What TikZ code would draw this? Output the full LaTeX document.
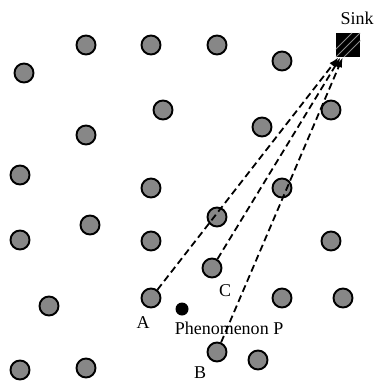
\documentclass[tikz,border=0pt]{standalone}
\usepackage{fontspec}
\setmainfont{Liberation Serif}
\usetikzlibrary{arrows.meta,calc}
\definecolor{nodegray}{RGB}{135,135,135}
\tikzset{
  sensor/.style={circle, draw=black, line width=1.9pt, fill=nodegray, minimum size=19pt, inner sep=0pt},
  event/.style={circle, fill=black, minimum size=13pt, inner sep=0pt},
  sinkbox/.style={rectangle, draw=black, line width=1.5pt, fill=black, minimum size=23pt, inner sep=0pt},
  route/.style={dash pattern=on 7pt off 4pt, line width=1.8pt, -{Latex[length=10pt,width=7pt]}},
  lbl/.style={font=\fontsize{18}{20}\selectfont, inner sep=0pt}
}
\begin{document}
\begin{tikzpicture}[x=1pt,y=-1pt]
\useasboundingbox (0,0) rectangle (375,382);
% sensors
\node[sensor] (s1) at (86,45) {};
\node[sensor] (s2) at (151,45) {};
\node[sensor] (s3) at (217,45) {};
\node[sensor] (s4) at (282,61) {};
\node[sensor] (s5) at (24,73) {};
\node[sensor] (s6) at (163,110) {};
\node[sensor] (s7) at (331,110) {};
\node[sensor] (s8) at (262,127) {};
\node[sensor] (s9) at (86,135) {};
\node[sensor] (s10) at (20,175) {};
\node[sensor] (s11) at (151,188) {};
\node[sensor] (s12) at (282,188) {};
\node[sensor] (s13) at (217,217) {};
\node[sensor] (s14) at (90,225) {};
\node[sensor] (s15) at (20,240) {};
\node[sensor] (s16) at (151,241) {};
\node[sensor] (s17) at (331,241) {};
\node[sensor] (C) at (212,268) {};
\node[sensor] (s19) at (49,306) {};
\node[sensor] (A) at (151,298) {};
\node[sensor] (s21) at (282,298) {};
\node[sensor] (s22) at (343,298) {};
\node[sensor] (B) at (217,352) {};
\node[sensor] (s24) at (258,360) {};
\node[sensor] (s25) at (20,370) {};
\node[sensor] (s26) at (86,368) {};
% phenomenon
\node[event] (P) at (182,309) {};
% sink
\node[sinkbox] (sink) at (348,45) {};
\begin{scope}
\clip (sink.south west) rectangle (sink.north east);
\foreach \d in {-8,0,8} {
  \draw[white!55!black, line width=0.9pt] ($(sink.center)+(\d-12,12)$) -- ($(sink.center)+(\d+12,-12)$);
}
\end{scope}
% routes
\draw[route] (A) -- (sink);
\draw[route] (C) -- (sink);
\draw[route] (B) -- (sink);
% labels
\node[lbl] (lsink) at (357,18) {Sink};
\node[lbl] (lA) at (143,323) {A};
\node[lbl] (lC) at (225,291) {C};
\node[lbl] (lB) at (200,373) {B};
\node[lbl] (lP) at (229,328) {Phenomenon P};
\end{tikzpicture}
\end{document}
